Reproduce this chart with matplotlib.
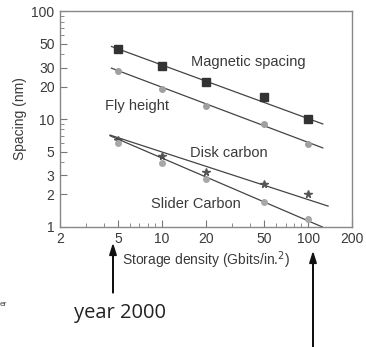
import numpy as np
import matplotlib
matplotlib.use("Agg")
import matplotlib.pyplot as plt
from matplotlib.ticker import FixedLocator, FixedFormatter, NullFormatter

plt.rcParams['font.family'] = ['Liberation Sans', 'DejaVu Sans']

density = [5, 10, 20, 50, 100]
magnetic_spacing = [45, 31, 22, 16, 10]
fly_height = [28, 19, 13.2, 9, 5.9]
disk_carbon = [6.4, 4.5, 3.25, 2.5, 2.0]
slider_carbon = [6.0, 3.9, 2.8, 1.7, 1.19]

# trend lines (start x, start y, end x, end y)
magnetic_trend = [4.5, 47, 126, 9.0]
fly_trend = [4.5, 29.6, 126, 5.4]
disk_trend = [4.4, 7.1, 137, 1.56]
slider_trend = [4.4, 7.0, 125, 1.0]

x_ticks = [2, 5, 10, 20, 50, 100, 200]
y_ticks = [1, 2, 3, 5, 10, 20, 30, 50, 100]

fig = plt.figure(figsize=(3.66, 3.47), dpi=100)
ax = fig.add_axes([0.164, 0.346, 0.798, 0.622])
ax.set_xscale('log')
ax.set_yscale('log')

ink = '#3a3a3a'
series = [
    (magnetic_spacing, magnetic_trend, 's', '#333333', 6),
    (fly_height, fly_trend, 'o', '#a0a0a0', 4),
    (disk_carbon, disk_trend, '*', '#555555', 5.5),
    (slider_carbon, slider_trend, 'o', '#a8a8a8', 4),
]
for vals, tr, mk, col, ms in series:
    ax.plot([tr[0], tr[2]], [tr[1], tr[3]], color='#444444', lw=0.9)
    ax.plot(density, vals, mk, color=col, ms=ms, mec=col)

ax.set_xlim(2, 200)
ax.set_ylim(1, 100)
ax.xaxis.set_major_locator(FixedLocator(x_ticks))
ax.xaxis.set_major_formatter(FixedFormatter([str(t) for t in x_ticks]))
ax.xaxis.set_minor_locator(FixedLocator([3, 4, 6, 7, 8, 9, 30, 40, 60, 70, 80, 90]))
ax.xaxis.set_minor_formatter(NullFormatter())
ax.yaxis.set_major_locator(FixedLocator(y_ticks))
ax.yaxis.set_major_formatter(FixedFormatter([str(t) for t in y_ticks]))
ax.yaxis.set_minor_locator(FixedLocator([4, 6, 7, 8, 9, 40, 60, 70, 80, 90]))
ax.yaxis.set_minor_formatter(NullFormatter())
ax.tick_params(which='both', direction='in', color='#777777', labelsize=10, labelcolor=ink)
ax.tick_params(which='major', length=5, pad=4)
ax.tick_params(which='minor', length=3)
for s in ax.spines.values():
    s.set_color('#888888')
    s.set_linewidth(1.0)

ax.set_ylabel('Spacing (nm)', fontsize=10, color=ink, labelpad=3)
ax.set_xlabel('Storage density (Gbits/in.$^2$)', fontsize=10, color=ink, labelpad=2)

ax.text(38.8, 33.7, 'Magnetic spacing', fontsize=10.5, color=ink, ha='center', va='center')
ax.text(6.7, 13.2, 'Fly height', fontsize=10.5, color=ink, ha='center', va='center')
ax.text(28.7, 4.84, 'Disk carbon', fontsize=10.5, color=ink, ha='center', va='center')
ax.text(17.1, 1.63, 'Slider Carbon', fontsize=10.5, color=ink, ha='center', va='center')

fig.text(0.0, 1 - 305 / 347, 'er', fontsize=6, color='#444444', va='center')

fig.text(120 / 366, 1 - 313 / 347, 'year 2000', fontsize=14.5, color='#222222',
         family=['Open Sans', 'DejaVu Sans'], ha='center', va='center')
fig.patches.append(matplotlib.patches.FancyArrow(
    113 / 366, 1 - 293 / 347, 0, 48 / 347, width=0.001, head_width=0.018,
    head_length=0.03, length_includes_head=True, color='#111111',
    transform=fig.transFigure, figure=fig))
fig.patches.append(matplotlib.patches.FancyArrow(
    313 / 366, 0.0, 0, 1 - 253 / 347, width=0.001, head_width=0.018,
    head_length=0.03, length_includes_head=True, color='#111111',
    transform=fig.transFigure, figure=fig))

fig.savefig('out.png', dpi=100)
